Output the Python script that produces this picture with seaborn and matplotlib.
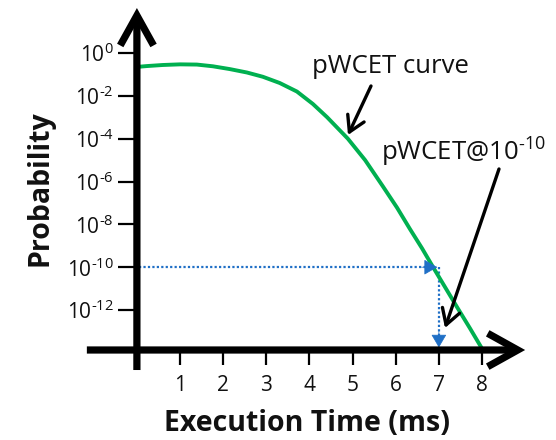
import numpy as np
import pandas as pd
import matplotlib
matplotlib.use("Agg")
import matplotlib.pyplot as plt
import seaborn as sns

# ---- data ----
time_ms = [0.00, 0.23, 0.60, 1.00, 1.39, 1.76, 2.15, 2.55, 2.92, 3.31, 3.71, 4.08,
           4.41, 4.89, 5.29, 5.70, 6.03, 6.33, 6.61, 6.86, 7.14, 7.42, 7.72, 8.02]
log10_prob = [-0.65, -0.61, -0.56, -0.53, -0.54, -0.62, -0.75, -0.91, -1.11, -1.40, -1.80, -2.38,
              -3.00, -4.00, -5.00, -6.22, -7.22, -8.22, -9.12, -9.98, -10.92, -11.86, -12.85, -13.87]
x_ticks = [1, 2, 3, 4, 5, 6, 7, 8]
y_tick_exps = [0, -2, -4, -6, -8, -10, -12]
target_prob_exp = -10
pwcet_ms = 7.0

df = pd.DataFrame({"time": time_ms, "prob": 10.0 ** np.array(log10_prob)})

sns.set_theme(style="white")
plt.rcParams["font.family"] = ["Open Sans", "DejaVu Sans"]
plt.rcParams["mathtext.fontset"] = "custom"
plt.rcParams["mathtext.rm"] = "Open Sans"
plt.rcParams["mathtext.it"] = "Open Sans:italic"
plt.rcParams["mathtext.bf"] = "Open Sans:bold"

W, H = 556, 440
fig = plt.figure(figsize=(W / 100, H / 100), dpi=100)
fig.patch.set_facecolor("white")

x0_px, y0_px = 136.9, 350.0
right_px, top_px = 530.0, 5.0
ux = 43.14      # px per ms
uy = 21.42      # px per decade
ax = fig.add_axes([x0_px / W, (H - y0_px) / H, (right_px - x0_px) / W, (y0_px - top_px) / H])
ax.set_yscale("log")
ax.set_xlim(0, (right_px - x0_px) / ux)
ax.set_ylim(10 ** (-(y0_px - 53) / uy), 10 ** ((53 - top_px) / uy))

sns.lineplot(data=df, x="time", y="prob", ax=ax, color="#00b050", lw=2.8, zorder=3)
ax.set_yscale("log")
ax.set_xlabel("")
ax.set_ylabel("")

for s in ax.spines.values():
    s.set_visible(False)
ax.grid(False)
ax.set_facecolor("none")


def sup_label(e):
    s = str(e).replace("-", "\u2010")
    return r"$10^{\mathrm{%s}}$" % s


ax.set_xticks(x_ticks)
ax.set_xticklabels([str(t) for t in x_ticks])
ax.set_yticks([10.0 ** e for e in y_tick_exps])
ax.set_yticklabels([sup_label(e) for e in y_tick_exps])
ax.minorticks_off()
ax.tick_params(axis="y", which="major", direction="out", length=13.5, width=1.6,
               color="black", labelsize=15, pad=3, left=True, labelcolor="#111111")
ax.tick_params(axis="x", which="major", direction="out", length=11, width=1.6,
               color="black", labelsize=15, pad=7, bottom=True, labelcolor="#111111")

# axes as thick arrows
ybot = ax.get_ylim()[0]
axis_arrow = dict(arrowstyle="->,head_length=0.9,head_width=0.5", lw=5.2, color="black",
                  shrinkA=0, shrinkB=0, mutation_scale=24, joinstyle="miter", capstyle="butt")
ax.annotate("", xy=(0, 10 ** 2.10), xytext=(0, 10 ** (-14.80)), arrowprops=axis_arrow,
            annotation_clip=False, zorder=5)
ax.annotate("", xy=(9.0, ybot), xytext=(-1.16, ybot), arrowprops=axis_arrow,
            annotation_clip=False, zorder=5)

# dotted blue guide lines
blue = "#1f6fc6"
yt = 10.0 ** target_prob_exp
ax.plot([0.05, pwcet_ms - 0.05], [yt, yt], color=blue, lw=1.6, ls=(0, (1, 1)), zorder=2)
ax.plot([pwcet_ms, pwcet_ms], [yt, 10 ** (-13.3)], color=blue, lw=1.6, ls=(0, (1, 1)), zorder=2)
head = dict(arrowstyle="-|>,head_length=0.6,head_width=0.35", lw=0.5, color=blue,
            shrinkA=0, shrinkB=0, mutation_scale=14)
ax.annotate("", xy=(pwcet_ms - 0.04, yt), xytext=(pwcet_ms - 0.4, yt), arrowprops=head, zorder=4)
ax.annotate("", xy=(pwcet_ms, 10 ** (-13.75)), xytext=(pwcet_ms, 10 ** (-13.0)), arrowprops=head,
            zorder=4, annotation_clip=False)

# annotations
def px2data(px, py):
    return (px - x0_px) / ux, 10 ** (-(py - 53) / uy)

black_arrow = dict(arrowstyle="->,head_length=0.85,head_width=0.5", lw=2.4, color="black",
                   shrinkA=0, shrinkB=0, mutation_scale=13)
ax.annotate("", xy=px2data(348, 135), xytext=px2data(371, 86), arrowprops=black_arrow, zorder=6)
ax.annotate("", xy=px2data(445, 328), xytext=px2data(499, 169), arrowprops=black_arrow, zorder=6)

tx, ty = px2data(312, 66)
ax.text(tx, ty, "pWCET curve", fontsize=18.5, ha="left", va="center", color="#111111")
tx, ty = px2data(381, 152)
ax.text(tx, ty, "pWCET@10" + r"$^{\mathrm{%s}}$" % "\u201010",
        fontsize=18.5, ha="left", va="center", color="#111111")

# axis titles
fig.text(307 / W, 1 - 423 / H, "Execution Time (ms)", fontsize=20.5, fontweight="bold",
         ha="center", va="center", color="#111111")
fig.text(40 / W, 1 - 188 / H, "Probability", fontsize=20.5, fontweight="bold",
         ha="center", va="center", rotation=90, color="#111111")

fig.savefig("out.png", dpi=100, facecolor="white")
